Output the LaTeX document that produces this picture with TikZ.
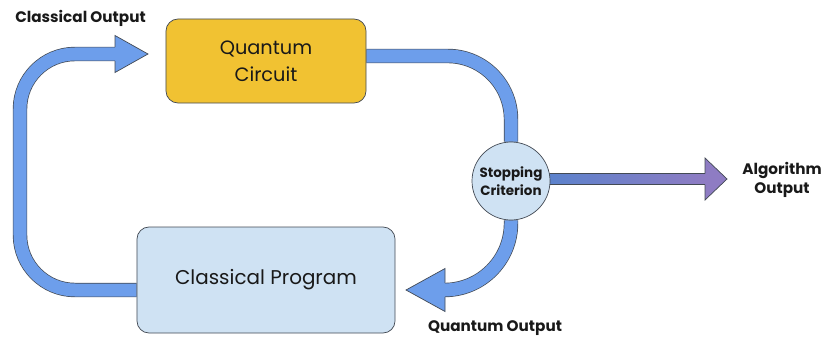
\documentclass[tikz,border=0pt]{standalone}
\usepackage{fontspec}
\setmainfont{Poppins}
\usetikzlibrary{backgrounds,calc}

\definecolor{pipeblue}{HTML}{6D9EEB}
\definecolor{edgegray}{HTML}{434A54}
\definecolor{circgold}{HTML}{F1C232}
\definecolor{progblue}{HTML}{CFE2F3}
\definecolor{outpurple}{HTML}{8E7CC3}
\definecolor{outblue}{HTML}{5B82CC}

\tikzset{
	box/.style={draw=edgegray, line width=0.6pt, rounded corners=0.36cm, align=center, inner sep=0pt, text=black!90},
	pipe/.style={draw=edgegray, line width=0.6pt, double=pipeblue, double distance=0.39cm},
	head/.style={fill=pipeblue, draw=edgegray, line width=0.6pt, line join=miter},
	lbl/.style={font=\bfseries\fontsize{13}{15.5}\selectfont, align=center, text=black!90}
}

\begin{document}
\begin{tikzpicture}[x=0.03cm, y=-0.03cm]
		\useasboundingbox (0,0) rectangle (822,338);
		
		%blocchi
		\node[box, fill=circgold, minimum width=6cm, minimum height=2.52cm,
			font=\fontsize{16.5}{23}\selectfont] (qc) at (266,61) {Quantum\\Circuit};
		\node[box, fill=progblue, minimum width=7.74cm, minimum height=3.18cm,
			font=\fontsize{17}{22}\selectfont] (cp) at (266,280) {Classical Program};
		\node[circle, draw=edgegray, fill=progblue, line width=0.6pt, minimum size=2.34cm,
			inner sep=0pt, lbl, font=\bfseries\fontsize{11.5}{15}\selectfont] (sc) at (511,181) {Stopping\\Criterion};
		
		%etichette
		\node[lbl, anchor=base] (co) at (80.5,23) {Classical Output};
		\node[lbl, anchor=base] (qo) at (495,331) {Quantum Output};
		\node[lbl] (ao) at (782,180) {Algorithm\\Output};
		
		\coordinate (coh) at (115,54);
		\coordinate (qoh) at (445,290);
		\coordinate (aoh) at (705,179);
		
		%tubi
		\begin{scope}[on background layer]
			\draw[pipe, rounded corners=1.65cm] ([yshift=-0.3cm]cp.west) -- (20,290) -- (20,54) -- (coh);
			\draw[pipe, rounded corners=1.9cm] ([yshift=0.15cm]qc.east) -- (511,56) -- (sc.north);
			\draw[pipe, rounded corners=2cm] (sc.south) -- (511,290) -- (qoh);
			
			%uscita algoritmo
			\shade[left color=outblue, right color=outpurple]
				($(sc.east |- aoh)+(-3,-5.5)$) rectangle ($(aoh)+(0,5.5)$);
			\draw[edgegray, line width=0.6pt] ($(sc.east |- aoh)+(-3,-5.5)$) -- ($(aoh)+(0,-5.5)$);
			\draw[edgegray, line width=0.6pt] ($(sc.east |- aoh)+(-3,5.5)$) -- ($(aoh)+(0,5.5)$);
		\end{scope}
		
		%punte
		\path[head] ($(coh)+(0,-6.9)$) -- ($(coh)+(0,-18.5)$) -- ($(coh)+(33,0)$)
			-- ($(coh)+(0,18.5)$) -- ($(coh)+(0,6.9)$);
		\path[head] ($(qoh)+(0,-6.9)$) -- ($(qoh)+(0,-21.5)$) -- ($(qoh)+(-39,0)$)
			-- ($(qoh)+(0,21.5)$) -- ($(qoh)+(0,6.9)$);
		\path[head, fill=outpurple] ($(aoh)+(0,-5.5)$) -- ($(aoh)+(0,-21)$) -- ($(aoh)+(22,0)$)
			-- ($(aoh)+(0,21)$) -- ($(aoh)+(0,5.5)$);
	\end{tikzpicture}
\end{document}
